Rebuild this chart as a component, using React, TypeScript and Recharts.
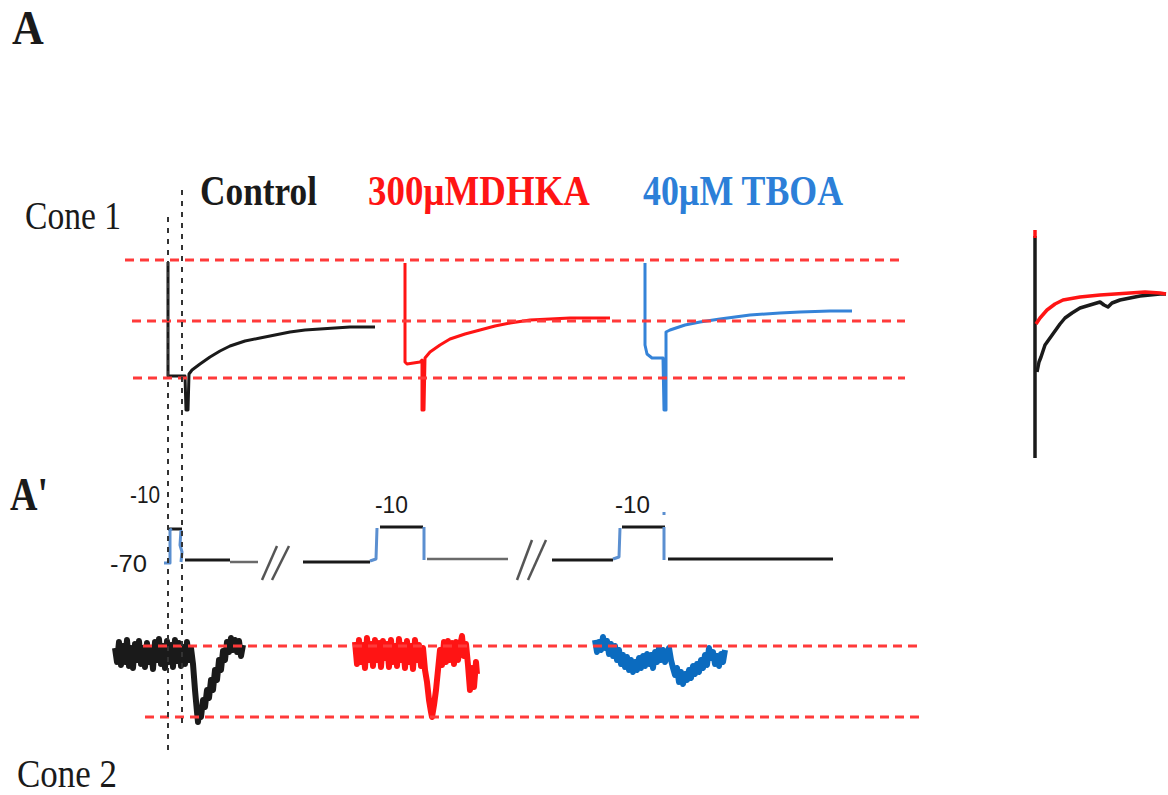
import React from "react";
import { ComposedChart, Line, XAxis, YAxis } from "recharts";

// ---- Data (figure units: x = time axis units, y = amplitude units, y grows downward) ----
// Cone 1 responses
const cone1Control: [number, number][] = [
  [168, 262], [168, 376], [185, 376], [186, 410], [188, 410], [189, 374], [192, 370], [200, 364],
  [210, 357], [220, 351], [230, 346], [245, 341], [260, 338], [275, 335], [290, 332], [305, 330],
  [320, 329], [335, 328], [350, 327], [365, 327], [375, 327],
];
const cone1DHKA: [number, number][] = [
  [405, 263], [405, 362], [407, 364], [420, 362], [422, 360], [422, 410], [424, 410], [425, 358],
  [430, 352], [440, 345], [450, 339], [465, 334], [480, 330], [495, 326], [510, 323], [530, 320],
  [550, 319], [570, 318], [590, 318], [610, 318],
];
const cone1TBOA: [number, number][] = [
  [645, 263], [645, 345], [647, 354], [652, 358], [663, 358], [664, 410], [666, 410], [666, 332],
  [670, 330], [685, 325], [700, 322], [720, 319], [750, 315], [780, 313], [800, 312], [830, 311],
  [852, 311],
];

// Inset: overlay of control and DHKA
const insetAxis: [number, number][] = [[1035, 236], [1035, 458]];
const insetTip: [number, number][] = [[1035, 230], [1035, 238]];
const insetDHKA: [number, number][] = [
  [1036, 324], [1040, 318], [1047, 310], [1055, 304], [1063, 300], [1080, 297], [1100, 295],
  [1115, 294], [1130, 293], [1145, 292], [1160, 293], [1166, 294],
];
const insetControl: [number, number][] = [
  [1037, 372], [1039, 362], [1041, 357], [1045, 345], [1050, 338], [1055, 331], [1060, 324],
  [1065, 318], [1072, 313], [1080, 308], [1090, 305], [1100, 302], [1104, 305], [1108, 307],
  [1112, 303], [1120, 300], [1130, 298], [1140, 296], [1150, 295], [1160, 294], [1166, 294],
];

// Voltage protocol (A')
const protoBlue: [number, number][][] = [
  [[164, 563], [170, 563], [170, 530], [172, 529]],
  [[181, 530], [180, 545], [182, 552], [181, 562]],
  [[370, 561], [376, 559], [377, 528]],
  [[424, 527], [424, 560]],
  [[613, 559], [619, 557], [620, 528]],
  [[664, 527], [664, 560]],
  [[664, 512], [664, 515]],
];
const protoBlack: [number, number][][] = [
  [[168, 529], [182, 529]],
  [[185, 560], [230, 560]],
  [[303, 562], [370, 562]],
  [[380, 527], [423, 527]],
  [[552, 560], [613, 560]],
  [[622, 527], [665, 527]],
  [[668, 559], [833, 559]],
];
const protoGray: [number, number][][] = [
  [[230, 562], [258, 562]],
  [[427, 559], [508, 559]],
];
const breakMarks: [number, number][][] = [
  [[262, 580], [277, 546]],
  [[272, 580], [289, 546]],
  [[517, 580], [532, 540]],
  [[528, 580], [546, 540]],
];

// Cone 2 responses
const cone2Control: [number, number][] = [
  [115, 648], [117, 662], [119, 642], [121, 665], [123, 646], [125, 662], [127, 640], [129, 666],
  [131, 648], [133, 668], [135, 644], [137, 660], [139, 641], [141, 664], [143, 648], [145, 667],
  [147, 643], [149, 662], [151, 650], [153, 669], [155, 642], [157, 660], [159, 639], [161, 664],
  [163, 646], [165, 668], [167, 641], [169, 662], [171, 645], [173, 667], [175, 640], [177, 661],
  [179, 643], [181, 666], [183, 647], [185, 664], [187, 642], [189, 660], [191, 648], [193, 664],
  [195, 690], [197, 712], [198, 722], [199, 712], [201, 717], [203, 700], [205, 707], [207, 690],
  [209, 698], [211, 680], [213, 690], [215, 670], [217, 680], [219, 660], [221, 670], [223, 651],
  [225, 660], [227, 642], [229, 652], [231, 638], [233, 650], [235, 640], [237, 652], [239, 641],
  [241, 656], [243, 645],
];
const cone2DHKA: [number, number][] = [
  [355, 642], [357, 664], [359, 640], [361, 662], [363, 645], [365, 668], [367, 638], [369, 660],
  [371, 644], [373, 666], [375, 640], [377, 660], [379, 643], [381, 667], [383, 641], [385, 658],
  [387, 644], [389, 667], [391, 640], [393, 662], [395, 646], [397, 666], [399, 639], [401, 660],
  [403, 645], [405, 668], [407, 641], [409, 662], [411, 646], [413, 669], [415, 640], [417, 660],
  [419, 645], [421, 666], [423, 648], [425, 670], [427, 682], [429, 700], [431, 712], [432, 717],
  [434, 705], [436, 690], [438, 670], [440, 650], [442, 665], [444, 642], [446, 662], [448, 641],
  [450, 660], [452, 643], [454, 664], [456, 642], [458, 660], [460, 646], [462, 636], [464, 656],
  [466, 644], [468, 665], [470, 690], [472, 668], [474, 687], [476, 662], [477, 674],
];
const cone2TBOA: [number, number][] = [
  [595, 640], [597, 652], [599, 642], [601, 650], [603, 637], [605, 648], [607, 641], [609, 654],
  [611, 644], [613, 656], [615, 646], [617, 660], [619, 650], [621, 664], [623, 655], [625, 667],
  [627, 657], [629, 670], [631, 660], [633, 672], [635, 662], [637, 670], [639, 658], [641, 668],
  [643, 656], [645, 666], [647, 654], [649, 664], [651, 655], [653, 668], [655, 652], [657, 662],
  [659, 648], [661, 660], [663, 650], [665, 662], [667, 654], [669, 648], [671, 660], [673, 668],
  [675, 675], [677, 668], [679, 682], [681, 672], [683, 684], [685, 674], [687, 680], [689, 670],
  [691, 678], [693, 666], [695, 674], [697, 664], [699, 672], [701, 660], [703, 668], [705, 655],
  [707, 665], [709, 648], [711, 658], [713, 652], [715, 664], [717, 656], [719, 666], [721, 654],
  [723, 662], [725, 650],
];

// Reference levels (dashed red) and alignment markers (dotted black)
const cone1Levels: [number, number][][] = [
  [[125, 260], [905, 260]],
  [[132, 321], [905, 321]],
  [[133, 378], [905, 378]],
];
const cone2Levels: [number, number][][] = [
  [[143, 646], [920, 646]],
  [[145, 717], [920, 717]],
];
const markers: [number, number][][] = [
  [[168, 217], [168, 752]],
  [[182, 190], [182, 728]],
];

// Labels
const panelLabels = ["A", "A'"];
const conditionLabels = ["Control", "300µMDHKA", "40µM TBOA"];
const cellLabels = ["Cone 1", "Cone 2"];
const voltageLabels = ["-10", "-70", "-10", "-10"];

// ---- Styling ----
const W = 1168;
const H = 795;
const BLACK = "#1a1a1a";
const RED = "#ff1414";
const BLUE_TOP = "#3583d8";
const BLUE_BOTTOM = "#0b6bbf";
const BLUE_STEP = "#5b8fd0";
const DASH_RED = "#ff3a3a";
const SERIF = "'Liberation Serif', 'Times New Roman', serif";
const SANS = "'Liberation Sans', Arial, sans-serif";

const pts = (arr: [number, number][]) => arr.map(([x, y]) => ({ x, y }));

let keyCounter = 0;
function trace(arr: [number, number][], stroke: string, width: number, dash?: string) {
  keyCounter += 1;
  return (
    <Line
      key={`l${keyCounter}`}
      data={pts(arr)}
      dataKey="y"
      type="linear"
      stroke={stroke}
      strokeWidth={width}
      strokeDasharray={dash}
      strokeLinejoin="round"
      dot={false}
      activeDot={false}
      isAnimationActive={false}
      legendType="none"
    />
  );
}

function Label({
  text, x, y, size, width, color = BLACK, bold = false, family = SERIF, sy = 1.2,
}: {
  text: string; x: number; y: number; size: number; width?: number; color?: string;
  bold?: boolean; family?: string; sy?: number;
}) {
  return (
    <text
      transform={`translate(${x},${y}) scale(1,${sy})`}
      fontSize={size}
      fontFamily={family}
      fontWeight={bold ? "bold" : "normal"}
      fill={color}
      textLength={width}
      lengthAdjust={width ? "spacingAndGlyphs" : undefined}
    >
      {text}
    </text>
  );
}

export default function App() {
  keyCounter = 0;
  return (
    <div style={{ position: "relative", width: W, height: H, background: "#fff" }}>
      <style>{"body{margin:0;background:#fff}"}</style>
      <ComposedChart width={W} height={H} margin={{ top: 0, right: 0, bottom: 0, left: 0 }}>
        <XAxis type="number" dataKey="x" domain={[0, W]} hide allowDataOverflow />
        <YAxis type="number" domain={[0, H]} reversed hide allowDataOverflow />
        {/* Cone 1 */}
        {trace(cone1Control, BLACK, 3)}
        {trace(cone1DHKA, RED, 3)}
        {trace(cone1TBOA, BLUE_TOP, 3)}
        {/* inset */}
        {trace(insetAxis, BLACK, 3.5)}
        {trace(insetTip, RED, 3.5)}
        {trace(insetControl, BLACK, 3.5)}
        {trace(insetDHKA, RED, 3.5)}
        {/* protocol */}
        {protoGray.map((s) => trace(s, "#6a6a6a", 2.5))}
        {protoBlack.map((s) => trace(s, BLACK, 3))}
        {protoBlue.map((s) => trace(s, BLUE_STEP, 3))}
        {breakMarks.map((s) => trace(s, "#555", 2.5))}
        {/* Cone 2 */}
        {trace(cone2Control, BLACK, 6)}
        {trace(cone2DHKA, RED, 6)}
        {trace(cone2TBOA, BLUE_BOTTOM, 6)}
        {/* levels & markers */}
        {cone1Levels.map((s) => trace(s, DASH_RED, 3, "9 6"))}
        {cone2Levels.map((s) => trace(s, DASH_RED, 3, "9 6"))}
        {markers.map((s) => trace(s, "#333", 2, "5 6"))}
      </ComposedChart>
      <svg
        width={W}
        height={H}
        style={{ position: "absolute", left: 0, top: 0, pointerEvents: "none" }}
      >
        <Label text={panelLabels[0]} x={12} y={44} size={44} bold sy={1.1} />
        <Label text={panelLabels[1]} x={10} y={510} size={38} bold />
        <Label text={cellLabels[0]} x={25} y={229} size={34} width={96} />
        <Label text={cellLabels[1]} x={17} y={787} size={34} width={100} />
        <Label text={conditionLabels[0]} x={200} y={205} size={35} width={117} bold />
        <Label text={conditionLabels[1]} x={368} y={205} size={35} width={222} bold color={RED} />
        <Label text={conditionLabels[2]} x={643} y={205} size={35} width={200} bold color="#2c7fd8" />
        <Label text={voltageLabels[0]} x={130} y={503} size={21} width={30} family={SANS} sy={1.15} />
        <Label text={voltageLabels[1]} x={110} y={572} size={21} width={37} family={SANS} sy={1.15} />
        <Label text={voltageLabels[2]} x={375} y={513} size={21} width={33} family={SANS} sy={1.15} />
        <Label text={voltageLabels[3]} x={615} y={513} size={21} width={35} family={SANS} sy={1.15} />
      </svg>
    </div>
  );
}
